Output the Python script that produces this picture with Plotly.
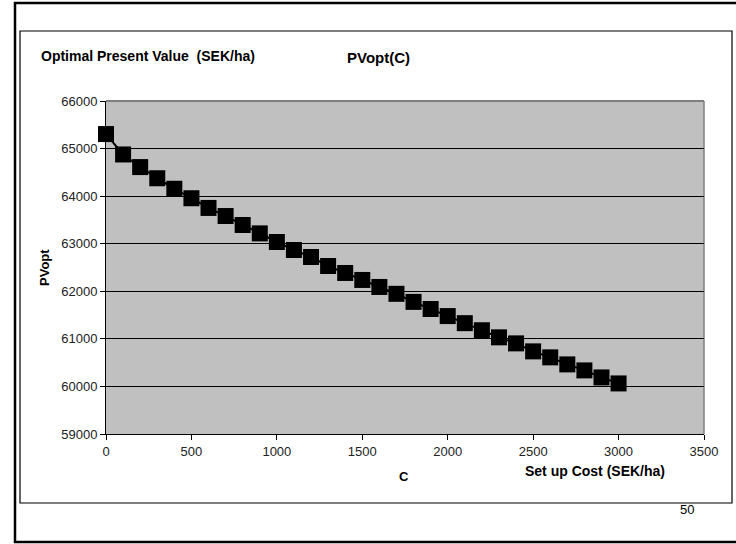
import plotly.graph_objects as go

# Data
setup_cost = [0, 100, 200, 300, 400, 500, 600, 700, 800, 900, 1000,
              1100, 1200, 1300, 1400, 1500, 1600, 1700, 1800, 1900, 2000,
              2100, 2200, 2300, 2400, 2500, 2600, 2700, 2800, 2900, 3000]
pv_opt = [65305, 64876, 64611, 64376, 64155, 63956, 63752, 63582, 63393, 63217, 63036,
          62868, 62721, 62532, 62385, 62238, 62091, 61947, 61777, 61628, 61479,
          61330, 61181, 61032, 60905, 60737, 60611, 60463, 60337, 60189, 60063]
x_ticks = [0, 500, 1000, 1500, 2000, 2500, 3000, 3500]
x_tick_labels = ["0", "500", "1000", "1500", "2000", "2500", "3000", "3500"]
y_ticks = [59000, 60000, 61000, 62000, 63000, 64000, 65000, 66000]
y_tick_labels = ["59000", "60000", "61000", "62000", "63000", "64000", "65000", "66000"]

W, H = 736, 544
L, R, T, B = 106, 704, 101, 434
FONT = "Liberation Sans, Arial, sans-serif"


def px(x):
    return (x - L) / (R - L)


def py(y):
    return (B - y) / (B - T)


fig = go.Figure()
fig.add_trace(go.Scatter(
    x=setup_cost, y=pv_opt, mode="lines+markers",
    line=dict(color="black", width=2),
    marker=dict(symbol="square", size=16, color="black", line=dict(width=0)),
    showlegend=False, hoverinfo="x+y", cliponaxis=False,
))

shapes = [
    # outer frame
    dict(type="rect", xref="paper", yref="paper", x0=px(15), x1=px(740), y0=py(3), y1=py(542),
         line=dict(color="black", width=2.5), layer="below"),
    # inner frame
    dict(type="rect", xref="paper", yref="paper", x0=px(20), x1=px(732), y0=py(31), y1=py(503),
         line=dict(color="black", width=1.2), layer="below"),
    # plot area top/right border (gray)
    dict(type="line", xref="paper", yref="paper", x0=0, x1=1, y0=1, y1=1,
         line=dict(color="#7f7f7f", width=2), layer="below"),
    dict(type="line", xref="paper", yref="paper", x0=1, x1=1, y0=0, y1=1,
         line=dict(color="#7f7f7f", width=1.5), layer="below"),
]

annotations = [
    dict(text="<b>Optimal Present Value  (SEK/ha)</b>", x=px(39), y=py(56), xref="paper", yref="paper",
         xanchor="left", yanchor="middle", showarrow=False, font=dict(family=FONT, size=14, color="black")),
    dict(text="<b>PVopt(C)</b>", x=px(378), y=py(57), xref="paper", yref="paper",
         xanchor="center", yanchor="middle", showarrow=False, font=dict(family=FONT, size=15, color="black")),
    dict(text="<b>PVopt</b>", x=px(44), y=py(268), xref="paper", yref="paper", textangle=-90,
         xanchor="center", yanchor="middle", showarrow=False, font=dict(family=FONT, size=13, color="black")),
    dict(text="<b>C</b>", x=px(404), y=py(476), xref="paper", yref="paper",
         xanchor="center", yanchor="middle", showarrow=False, font=dict(family=FONT, size=13, color="black")),
    dict(text="<b>Set up Cost (SEK/ha)</b>", x=px(595), y=py(471), xref="paper", yref="paper",
         xanchor="center", yanchor="middle", showarrow=False, font=dict(family=FONT, size=14, color="black")),
    dict(text="50", x=px(687), y=py(509), xref="paper", yref="paper",
         xanchor="center", yanchor="middle", showarrow=False, font=dict(family=FONT, size=13, color="black")),
]

fig.update_layout(
    width=W, height=H,
    margin=dict(l=L, r=W - R, t=T, b=H - B, pad=0),
    paper_bgcolor="white", plot_bgcolor="#c0c0c0",
    font=dict(family=FONT, size=13, color="black"),
    shapes=shapes, annotations=annotations,
    xaxis=dict(range=[0, 3500], tickvals=x_ticks, ticktext=x_tick_labels, ticks="outside",
               ticklen=5, tickcolor="black", showgrid=False, zeroline=False, showline=True,
               linecolor="black", linewidth=1, tickfont=dict(size=13, family=FONT, color="#222"),
               fixedrange=True),
    yaxis=dict(range=[59000, 66000], tickvals=y_ticks, ticktext=y_tick_labels, ticks="outside",
               ticklen=5, tickcolor="black", showgrid=True, gridcolor="black", gridwidth=1,
               zeroline=False, showline=True, linecolor="black", linewidth=1,
               tickfont=dict(size=13, family=FONT, color="#222"), fixedrange=True),
)

fig.write_html("out.html")
